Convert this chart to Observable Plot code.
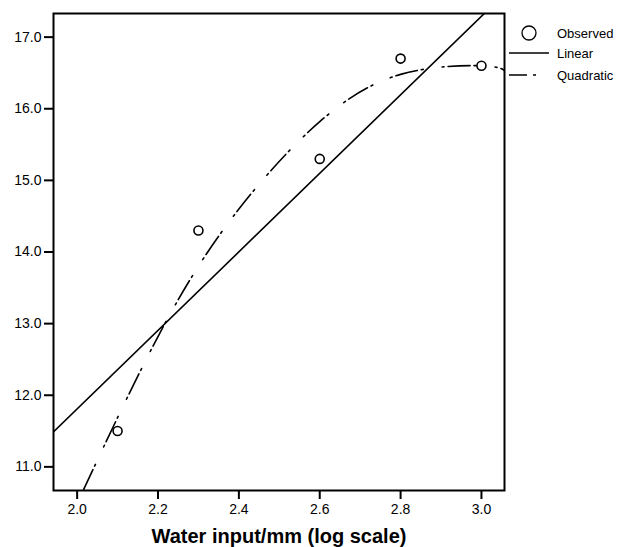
<!DOCTYPE html>
<html>
<head>
<meta charset="utf-8">
<script src="https://cdn.jsdelivr.net/npm/d3@7"></script>
<script src="https://cdn.jsdelivr.net/npm/@observablehq/plot@0.6"></script>
<style>
  html, body { margin: 0; padding: 0; background: #fff; }
  #chart { position: relative; width: 618px; height: 547px; }
</style>
</head>
<body>
<div id="chart"></div>
<script>
// Observed data
const obsX = [2.1, 2.3, 2.6, 2.8, 3.0];
const obsY = [11.5, 14.3, 15.3, 16.7, 16.6];

// Linear fit line
const linX = [1.94, 3.06];
const linY = [11.48, 17.62];

// Quadratic fit curve
const quadX = [1.99, 2.0, 2.2, 2.4, 2.6, 2.8, 3.0, 3.06];
const quadY = [10.42, 10.49, 12.82, 14.60, 15.82, 16.48, 16.60, 16.52];

// Ticks
const xTicks = [2.0, 2.2, 2.4, 2.6, 2.8, 3.0];
const yTicks = [11.0, 12.0, 13.0, 14.0, 15.0, 16.0, 17.0];

const xLabel = "Water input/mm (log scale)";
const legendItems = ["Observed", "Linear", "Quadratic"];

const observed = obsX.map((x, i) => ({x, y: obsY[i]}));
const linear = linX.map((x, i) => ({x, y: linY[i]}));
const quadratic = quadX.map((x, i) => ({x, y: quadY[i]}));

const dash = "22,4,2,19,2,4";
const legendDash = "18,6,3,20";
const fmt = d3.format(".1f");

const plot = Plot.plot({
  width: 618,
  height: 547,
  marginLeft: 53,
  marginRight: 114,
  marginTop: 13,
  marginBottom: 57,
  style: {fontFamily: "'Liberation Sans', Arial, sans-serif", fontSize: "14px", color: "#000", background: "#fff"},
  x: {domain: [1.9415, 3.057]},
  y: {domain: [10.67, 17.33]},
  marks: [
    Plot.line(linear, {x: "x", y: "y", stroke: "#000", strokeWidth: 1.6, clip: true}),
    Plot.line(quadratic, {x: "x", y: "y", stroke: "#000", strokeWidth: 1.6, strokeDasharray: dash, curve: "natural", clip: true}),
    Plot.dot(observed, {x: "x", y: "y", r: 4.5, stroke: "#000", strokeWidth: 1.6, fill: "#fff"}),
    Plot.frame({stroke: "#000", strokeWidth: 2}),
    Plot.axisX({ticks: xTicks, tickFormat: fmt, tickSize: 9, tickPadding: 5, strokeWidth: 2, label: null, fontSize: 14}),
    Plot.axisY({ticks: yTicks, tickFormat: fmt, tickSize: 9, tickPadding: 3, strokeWidth: 2, label: null, fontSize: 14}),
    Plot.text([xLabel], {text: d => d, frameAnchor: "bottom", dy: 52, fontWeight: "bold", fontSize: 20})
  ]
});

document.getElementById("chart").appendChild(plot);

// Legend, drawn into the plot's SVG
const svg = d3.select(plot);
const lg = svg.append("g")
  .attr("font-family", "'Liberation Sans', Arial, sans-serif")
  .attr("font-size", 13)
  .attr("text-anchor", "start");
const rowsY = [33, 53, 75];
lg.append("circle").attr("cx", 529).attr("cy", rowsY[0]).attr("r", 7)
  .attr("fill", "#fff").attr("stroke", "#000").attr("stroke-width", 1.3);
lg.append("line").attr("x1", 509).attr("x2", 549).attr("y1", rowsY[1]).attr("y2", rowsY[1])
  .attr("stroke", "#000").attr("stroke-width", 1.6);
lg.append("line").attr("x1", 509).attr("x2", 549).attr("y1", rowsY[2]).attr("y2", rowsY[2])
  .attr("stroke", "#000").attr("stroke-width", 1.6).attr("stroke-dasharray", legendDash);
legendItems.forEach((t, i) => {
  lg.append("text").attr("x", 557).attr("y", rowsY[i]).attr("dy", "0.35em")
    .attr("text-anchor", "start").attr("fill", "#000").text(t);
});
</script>
</body>
</html>
